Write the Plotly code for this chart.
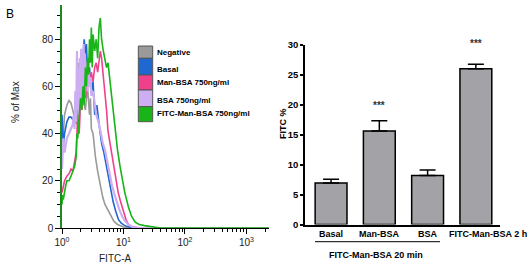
import plotly.graph_objects as go

W, H = 530, 276

# ---------------- Left panel: flow cytometry histograms ----------------
neg_x = [1.0, 1.05, 1.1, 1.2, 1.3, 1.4, 1.5, 1.6, 1.7, 1.8, 1.85, 1.9, 2.0, 2.2, 2.4, 2.6, 2.8, 2.9, 3.0, 3.2, 3.5, 3.8, 4.2, 4.6, 5.0, 5.6, 6.3, 7.0, 8.0, 9.0, 10, 12, 15, 2290]
neg_y = [30, 42, 48, 52, 54, 53, 50, 47, 44, 46, 70, 50, 58, 55, 50, 60, 48, 55, 42, 40, 30, 24, 18, 13, 10, 7.6, 4.5, 2.8, 1.5, 0.8, 0.4, 0.2, 0, 0]

bas_x = [1.0, 1.05, 1.1, 1.2, 1.3, 1.4, 1.5, 1.6, 1.7, 1.8, 1.9, 2.0, 2.1, 2.2, 2.3, 2.4, 2.5, 2.6, 2.8, 3.0, 3.2, 3.4, 3.7, 4.0, 4.4, 4.8, 5.2, 5.6, 6.2, 6.8, 7.5, 8.3, 9.2, 10.5, 12, 15, 2290]
bas_y = [48, 35, 40, 45, 47, 47, 46, 48, 55, 62, 58, 70, 66, 75, 80, 72, 78, 64, 68, 58, 62, 48, 52, 44, 36, 32, 27, 22, 15, 11, 7, 3.5, 2, 1, 0.5, 0, 0]

man_x = [1.0, 1.05, 1.1, 1.2, 1.3, 1.4, 1.5, 1.6, 1.7, 1.8, 1.9, 2.0, 2.1, 2.2, 2.4, 2.6, 2.8, 3.0, 3.2, 3.4, 3.6, 3.8, 4.0, 4.2, 4.4, 4.7, 5.0, 5.3, 5.6, 6.0, 6.5, 7.0, 7.5, 8.2, 9.0, 10, 11, 12, 14, 18, 2290]
man_y = [15, 18, 20, 22, 23, 25, 24, 28, 32, 48, 40, 52, 50, 58, 55, 63, 60, 66, 62, 68, 70, 66, 72, 75, 72, 65, 58, 50, 41, 36, 30, 25, 20, 15, 11, 7, 3.5, 1.5, 0.5, 0, 0]

bsa_x = [1.0, 1.05, 1.1, 1.15, 1.2, 1.3, 1.4, 1.5, 1.55, 1.6, 1.65, 1.7, 1.75, 1.8, 1.85, 1.9, 1.95, 2.0, 2.05, 2.1, 2.15, 2.2, 2.25, 2.3, 2.35, 2.4, 2.5, 2.6, 2.7, 2.8, 2.9, 3.0, 3.2, 3.4, 3.6, 3.8, 4.0, 4.3, 4.6, 5.0, 5.5, 6.0, 6.5, 7.0, 7.7, 8.5, 9.5, 10.5, 12, 14, 18, 2290]
bsa_y = [25, 38, 32, 36, 38, 40, 42, 44, 48, 42, 58, 45, 75, 50, 68, 48, 72, 55, 76, 52, 70, 60, 78, 56, 74, 62, 70, 58, 66, 60, 64, 56, 58, 52, 48, 46, 44, 40, 36, 33, 27, 23, 18, 15, 11, 8, 5, 3, 1.5, 0.4, 0, 0]

fit_x = [1.0, 1.02, 1.05, 1.1, 1.15, 1.2, 1.3, 1.4, 1.5, 1.6, 1.7, 1.75, 1.8, 1.9, 2.0, 2.1, 2.2, 2.3, 2.4, 2.5, 2.6, 2.7, 2.8, 2.9, 3.0, 3.1, 3.2, 3.4, 3.6, 3.8, 4.0, 4.2, 4.4, 4.7, 5.0, 5.3, 5.6, 6.0, 6.4, 6.8, 7.3, 8.0, 8.8, 9.5, 10.5, 12, 13.5, 15.5, 18, 22, 30, 40, 2290]
fit_y = [10, 14, 12, 16, 18, 20, 20, 22, 24, 26, 30, 40, 38, 45, 55, 50, 60, 52, 68, 60, 72, 65, 80, 70, 85, 68, 82, 75, 80, 72, 85, 89, 80, 75, 72, 68, 70, 63, 54, 48, 41, 33, 26, 21, 15, 9, 5, 2.5, 1.5, 1, 0.5, 0, 0]

hist_names = ["Negative", "Basal", "Man-BSA 750ng/ml", "BSA 750ng/ml", "FITC-Man-BSA 750ng/ml"]
hist_colors = ["#9a9a9a", "#1f68d2", "#f0408c", "#cdaef2", "#18b418"]
hist_widths = [1.6, 1.6, 1.6, 2.2, 1.6]
hist_x = [neg_x, bas_x, man_x, bsa_x, fit_x]
hist_y = [neg_y, bas_y, man_y, bsa_y, fit_y]

x_tickvals = [1, 10, 100, 1000]
x_ticktext = ["10<sup>0</sup>", "10<sup>1</sup>", "10<sup>2</sup>", "10<sup>3</sup>"]
x_minor_ticks = [m * d for d in (1, 10, 100, 1000) for m in range(2, 10) if m * d <= 2290]

# ---------------- Right panel: bar chart ----------------
bar_cats = ["Basal", "Man-BSA", "BSA", "FITC-Man-BSA 2 h"]
bar_vals = [6.9, 15.6, 8.15, 25.95]
bar_err = [0.65, 1.7, 0.95, 0.75]
sig_labels = ["", "***", "", "***"]
sig_y = [0, 19.75, 0, 29.9]

FONT = "Liberation Sans, Arial, sans-serif"

def px(x):
    return x / W

def py(y):
    return 1 - y / H

fig = go.Figure()

for xs, ys, nm, col, lw in zip(hist_x, hist_y, hist_names, hist_colors, hist_widths):
    fig.add_trace(go.Scatter(x=xs, y=ys, mode="lines", name=nm,
                             line=dict(color=col, width=lw),
                             xaxis="x", yaxis="y", showlegend=False))

# invisible trace to host the minor-tick axis
fig.add_trace(go.Scatter(x=[1, 2290], y=[0, 0], mode="lines", line=dict(width=0),
                         xaxis="x3", yaxis="y", showlegend=False, hoverinfo="skip"))

fig.add_trace(go.Bar(x=bar_cats, y=bar_vals, xaxis="x2", yaxis="y2",
                     width=0.66, marker=dict(color="#a3a3a7", line=dict(color="black", width=1.5)),
                     error_y=dict(type="data", symmetric=False, array=bar_err,
                                  arrayminus=[0] * len(bar_err), color="black",
                                  thickness=1.5, width=8),
                     showlegend=False))

fig.update_layout(
    width=W, height=H, margin=dict(l=0, r=0, t=0, b=0, autoexpand=False),
    paper_bgcolor="white", plot_bgcolor="white",
    font=dict(family=FONT, color="black", size=10),
    xaxis=dict(type="log", domain=[px(62), px(269)], range=[0, 3.366],
               anchor="y", showgrid=False, zeroline=False, automargin=False,
               showline=True, linecolor="black", linewidth=1.3,
               ticks="outside", ticklen=5, tickwidth=1, tickcolor="black",
               tickvals=x_tickvals, ticktext=x_ticktext,
               tickfont=dict(size=10, color="#222")),
    xaxis3=dict(type="log", domain=[px(62), px(269)], range=[0, 3.366],
                anchor="y", overlaying="x", showgrid=False, zeroline=False, automargin=False,
                showline=False, ticks="outside", ticklen=3, tickwidth=1, tickcolor="black",
                tickvals=x_minor_ticks, showticklabels=False),
    yaxis=dict(domain=[py(228), py(5)], range=[0, 94.5], anchor="x",
               showgrid=False, zeroline=False, automargin=False,
               showline=True, linecolor="#1f8a1f", linewidth=1.6,
               ticks="outside", ticklen=5, tickwidth=1, tickcolor="black",
               dtick=20, tickfont=dict(size=10, color="#222"),
               minor=dict(ticks="outside", ticklen=3, dtick=5, tickcolor="black", tickwidth=1, showgrid=False)),
    xaxis2=dict(domain=[px(305), px(500)], range=[-0.54, 3.5], anchor="y2",
                type="category", showgrid=False, zeroline=False, automargin=False,
                showline=True, linecolor="black", linewidth=1.5, ticks="",
                showticklabels=False),
    yaxis2=dict(domain=[py(224.5), py(44.5)], range=[0, 30], anchor="x2",
                showgrid=False, zeroline=False, automargin=False,
                showline=True, linecolor="black", linewidth=1.5,
                ticks="outside", ticklen=3, tickwidth=1.5, tickcolor="black",
                dtick=5, tickfont=dict(size=9.5, weight="bold")),
)

annotations = [
    dict(text="B", x=px(10), y=py(14), font=dict(size=12)),
    dict(text="% of Max", x=px(15), y=py(102), textangle=-90, font=dict(size=10, color="#222")),
    dict(text="FITC-A", x=px(115), y=py(258), font=dict(size=10, color="#222")),
    dict(text="<b>FITC %</b>", x=px(283), y=py(124), textangle=-90, font=dict(size=9)),
    dict(text="<b>FITC-Man-BSA 20 min</b>", x=px(376), y=py(255), font=dict(size=9)),
]
for a in annotations:
    a.update(xref="paper", yref="paper", showarrow=False, xanchor="center", yanchor="middle")
    fig.add_annotation(**a)

# category labels under the bars (last one nudged right as in the original)
cat_shift = [0, 0, 0, 12]
for c, sh in zip(bar_cats, cat_shift):
    fig.add_annotation(text="<b>" + c + "</b>", x=c, y=0, xref="x2", yref="y2",
                       showarrow=False, yanchor="middle", yshift=-9, xshift=sh,
                       font=dict(size=9))

for c, s, yv in zip(bar_cats, sig_labels, sig_y):
    if s:
        fig.add_annotation(text="<b>" + s + "</b>", x=c, y=yv, xref="x2", yref="y2",
                           showarrow=False, yshift=2 if yv > 25 else 0,
                           font=dict(size=10, color="#333"))

# underline grouping the 20 min bars
fig.add_shape(type="line", xref="paper", yref="paper", x0=px(315), x1=px(440),
              y0=py(241.7), y1=py(241.7), line=dict(color="black", width=1))

# legend drawn as coloured boxes with labels
box_tops = [46, 58.3, 75, 90, 106.7]
box_bots = [58.3, 75, 90, 106.7, 121.7]
text_y = [52.3, 69.3, 82.7, 100, 113]
for nm, col, t, b, ty in zip(hist_names, hist_colors, box_tops, box_bots, text_y):
    fig.add_shape(type="rect", xref="paper", yref="paper", x0=px(138.3), x1=px(152.7),
                  y0=py(b), y1=py(t), fillcolor=col, line=dict(color="#555", width=1))
    fig.add_annotation(text="<b>" + nm + "</b>", x=px(154.5), y=py(ty), xref="paper", yref="paper",
                       showarrow=False, xanchor="left", yanchor="middle", font=dict(size=8))

fig.write_html("out.html", config={"displayModeBar": False},
               post_script="document.body.style.margin='0';document.body.style.overflow='hidden';")
